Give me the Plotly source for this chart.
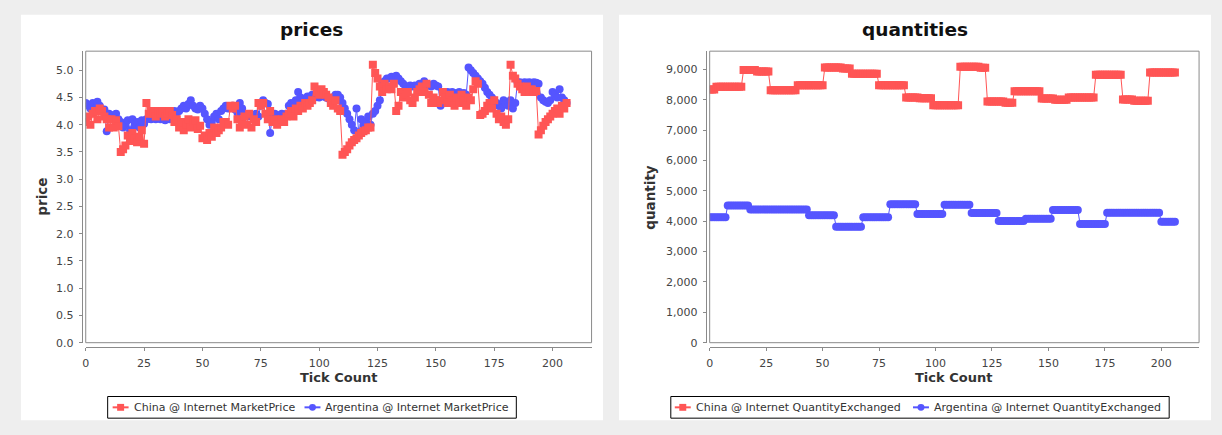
import plotly.graph_objects as go

# tick index shared by all four series
ticks = list(range(207))

china_price = [
    4.05, 4.15, 4.00, 4.20, 4.25, 4.10, 4.30, 4.25, 4.15, 4.10,
    3.95, 4.10, 3.95, 4.08, 3.97, 3.50, 3.55, 3.62, 3.80, 3.70,
    3.85, 3.75, 3.68, 3.78, 3.90, 3.65, 4.40, 4.20, 4.25, 4.20,
    4.15, 4.25, 4.20, 4.25, 4.15, 4.20, 4.25, 4.18, 4.05, 4.10,
    3.95, 4.05, 3.90, 4.00, 4.10, 3.95, 4.05, 4.08, 3.92, 3.98,
    3.75, 3.80, 3.72, 3.85, 3.78, 3.95, 3.85, 3.90, 3.95, 4.05,
    4.05, 4.00, 4.35, 4.30, 4.35, 4.10, 3.95, 4.05, 4.15, 4.00,
    4.20, 3.95, 4.10, 4.05, 4.40, 4.35, 4.40, 4.20, 4.10, 4.25,
    4.05, 4.10, 4.00, 4.05, 4.10, 4.05, 4.15, 4.20, 4.25, 4.15,
    4.30, 4.25, 4.35, 4.30, 4.40, 4.35, 4.40, 4.45, 4.70, 4.60,
    4.55, 4.65, 4.60, 4.55, 4.50, 4.40, 4.35, 4.45, 4.30, 4.25,
    3.45, 3.50, 3.55, 3.62, 3.68, 3.72, 3.75, 3.80, 3.85, 3.88,
    3.90, 3.95, 3.95, 5.10, 4.95, 4.85, 4.70, 4.60, 4.75, 4.65,
    4.70, 4.65, 4.75, 4.25, 4.35, 4.60, 4.50, 4.55, 4.60, 4.45,
    4.40, 4.50, 4.60, 4.65, 4.70, 4.60, 4.75, 4.55, 4.40, 4.50,
    4.45, 4.40, 4.45, 4.60, 4.50, 4.40, 4.55, 4.45, 4.35, 4.50,
    4.40, 4.55, 4.45, 4.35, 4.50, 4.45, 4.65, 4.80, 4.75, 4.18,
    4.20, 4.25, 4.35, 4.40, 4.30, 4.45, 4.20, 4.10, 4.15, 4.05,
    4.00, 4.10, 5.10, 4.90, 4.85, 4.75, 4.70, 4.65, 4.60, 4.70,
    4.60, 4.65, 4.60, 4.62, 3.82, 3.90, 3.98, 4.05, 4.10, 4.15,
    4.20, 4.25, 4.30, 4.20, 4.35, 4.30, 4.40,
]

argentina_price = [
    4.40, 4.35, 4.30, 4.40, 4.30, 4.42, 4.35, 4.25, 4.28, 3.88,
    4.20, 4.15, 4.18, 4.20, 4.10, 4.05, 3.95, 4.00, 4.08, 3.90,
    4.10, 3.98, 4.05, 3.95, 4.08, 4.02, 4.10, 4.12, 4.10, 4.15,
    4.10, 4.15, 4.10, 4.12, 4.08, 4.15, 4.10, 4.20, 4.25, 4.22,
    4.25, 4.30, 4.35, 4.30, 4.38, 4.45, 4.35, 4.30, 4.28, 4.35,
    4.30, 4.20, 4.10, 4.00, 4.05, 4.15, 4.20, 4.10, 4.25, 4.30,
    4.35, 4.30, 4.32, 4.35, 4.28, 4.22, 4.40, 4.30, 4.20, 4.15,
    4.18, 4.15, 4.12, 4.20, 4.15, 4.35, 4.45, 4.40, 4.38, 3.85,
    4.15, 4.20, 4.18, 4.15, 4.20, 4.18, 4.20, 4.35, 4.40, 4.38,
    4.45, 4.60, 4.50, 4.45, 4.48, 4.52, 4.50, 4.55, 4.50, 4.55,
    4.50, 4.55, 4.52, 4.50, 4.48, 4.45, 4.50, 4.55, 4.55, 4.50,
    4.40, 4.30, 4.20, 4.10, 4.00, 3.90, 4.30, 3.85, 4.10, 4.00,
    4.05, 4.15, 4.00, 4.20, 4.25, 4.35, 4.45, 4.75, 4.80, 4.85,
    4.85, 4.88, 4.85, 4.90, 4.85, 4.80, 4.75, 4.70, 4.70, 4.72,
    4.70, 4.72, 4.70, 4.75, 4.72, 4.80, 4.75, 4.72, 4.70, 4.75,
    4.72, 4.70, 4.35, 4.60, 4.58, 4.60, 4.55, 4.60, 4.58, 4.55,
    4.60, 4.55, 4.58, 4.55, 5.05, 5.00, 4.95, 4.90, 4.85, 4.80,
    4.75, 4.68, 4.60, 4.55, 4.50, 4.45, 4.40, 4.35, 4.30, 4.45,
    4.40, 4.35, 4.45, 4.30, 4.40, 4.78, 4.78, 4.76, 4.78, 4.77,
    4.78, 4.76, 4.78, 4.77, 4.75, 4.50, 4.45, 4.42, 4.40, 4.45,
    4.60, 4.55, 4.50, 4.65, 4.50, 4.45, 4.40,
]

# quantities hold a level for a run of ticks: (level, number of ticks)
china_qty_levels = [8340, 8425, 8980, 8930, 8310, 8480, 9065, 9030, 8860, 8480,
                    8075, 8050, 7820, 9085, 9050, 7940, 7900, 8280, 8040, 8000,
                    8075, 8820, 8010, 7970, 8900]
china_qty_runs = [3, 12, 6, 6, 12, 12, 8, 4, 12, 12,
                  6, 6, 12, 9, 3, 8, 4, 12, 6, 6,
                  12, 12, 5, 7, 12]

argentina_qty_levels = [4130, 4520, 4390, 4200, 3820, 4130, 4560, 4240,
                        4540, 4270, 4010, 4080, 4370, 3910, 4280, 3980]
argentina_qty_runs = [8, 10, 26, 12, 12, 12, 12, 12,
                      12, 12, 12, 12, 12, 12, 24, 7]

china_qty = [v for v, n in zip(china_qty_levels, china_qty_runs) for _ in range(n)]
argentina_qty = [v for v, n in zip(argentina_qty_levels, argentina_qty_runs) for _ in range(n)]

x_ticks = [0, 25, 50, 75, 100, 125, 150, 175, 200]
price_ticks = [0.0, 0.5, 1.0, 1.5, 2.0, 2.5, 3.0, 3.5, 4.0, 4.5, 5.0]
qty_ticks = [0, 1000, 2000, 3000, 4000, 5000, 6000, 7000, 8000, 9000]

price_legend = ['China @ Internet MarketPrice', 'Argentina @ Internet MarketPrice']
qty_legend = ['China @ Internet QuantityExchanged', 'Argentina @ Internet QuantityExchanged']

RED = '#ff5555'
BLUE = '#5555ff'
FONT = 'DejaVu Sans'
W, H = 1222, 435


def fx(px):
    return px / W


def fy(py):
    return 1 - py / H


plot_top, plot_bottom = 52, 348.3
left_plot = (82, 589.5)
right_plot = (708, 1199)

fig = go.Figure()

# Argentina first so that China is drawn on top (like the original)
fig.add_trace(go.Scatter(
    x=ticks, y=argentina_price, mode='lines+markers', name=price_legend[1],
    line=dict(color=BLUE, width=1), marker=dict(symbol='circle', size=8, color=BLUE),
    xaxis='x', yaxis='y'))
fig.add_trace(go.Scatter(
    x=ticks, y=china_price, mode='lines+markers', name=price_legend[0],
    line=dict(color=RED, width=1), marker=dict(symbol='square', size=8, color=RED),
    xaxis='x', yaxis='y'))
fig.add_trace(go.Scatter(
    x=ticks, y=argentina_qty, mode='lines+markers', name=qty_legend[1],
    line=dict(color=BLUE, width=1), marker=dict(symbol='circle', size=8, color=BLUE),
    xaxis='x2', yaxis='y2'))
fig.add_trace(go.Scatter(
    x=ticks, y=china_qty, mode='lines+markers', name=qty_legend[0],
    line=dict(color=RED, width=1), marker=dict(symbol='square', size=8, color=RED),
    xaxis='x2', yaxis='y2'))

axis_common = dict(
    showline=True, linecolor='#8a8a8a', linewidth=1,
    ticks='outside', ticklen=3, tickcolor='#8a8a8a',
    tickfont=dict(family=FONT, size=11, color='#444444'),
    showgrid=True, gridcolor='rgba(255,255,255,0.85)', gridwidth=1, griddash='2px,2px',
    zeroline=False, fixedrange=True,
)
x_axis_pos = fy(plot_bottom + 4.5)

fig.update_layout(
    width=W, height=H,
    margin=dict(l=0, r=0, t=0, b=0),
    paper_bgcolor='#eeeeee',
    plot_bgcolor='#c0c0c0',
    font=dict(family=FONT, color='#333333'),
    showlegend=False,
    xaxis=dict(axis_common, domain=[fx(left_plot[0]), fx(left_plot[1])], range=[0, 216.7],
               tickvals=x_ticks, anchor='free', position=x_axis_pos, ticklabelstandoff=3),
    yaxis=dict(axis_common, domain=[fy(plot_bottom), fy(plot_top)], range=[0, 5.35],
               tickvals=price_ticks, tickformat='.1f', anchor='free',
               position=fx(left_plot[0] - 4), ticklabelstandoff=3),
    xaxis2=dict(axis_common, domain=[fx(right_plot[0]), fx(right_plot[1])], range=[0, 216.7],
                tickvals=x_ticks, anchor='free', position=x_axis_pos, ticklabelstandoff=3),
    yaxis2=dict(axis_common, domain=[fy(plot_bottom), fy(plot_top)], range=[0, 9600],
                tickvals=qty_ticks, tickformat=',d', anchor='free',
                position=fx(right_plot[0] - 4), ticklabelstandoff=3),
)

# white chart panels behind each plot, plus the plot outlines
shapes = [
    dict(type='rect', xref='paper', yref='paper', x0=fx(17), x1=fx(601), y0=fy(427), y1=fy(15),
         fillcolor='white', line=dict(width=0), layer='below'),
    dict(type='rect', xref='paper', yref='paper', x0=fx(617), x1=fx(1211), y0=fy(427), y1=fy(15),
         fillcolor='white', line=dict(width=0), layer='below'),
]
for x0, x1 in (left_plot, right_plot):
    shapes.append(dict(type='rect', xref='paper', yref='paper', x0=fx(x0), x1=fx(x1),
                       y0=fy(plot_bottom), y1=fy(plot_top),
                       line=dict(color='#8a8a8a', width=1), fillcolor='rgba(0,0,0,0)', layer='above'))

annotations = [
    dict(text='<b>prices</b>', x=fx(309), y=fy(30), font=dict(size=18.5, color='#111111')),
    dict(text='<b>quantities</b>', x=fx(914), y=fy(30), font=dict(size=18.5, color='#111111')),
    dict(text='<b>Tick Count</b>', x=fx(336), y=fy(384), font=dict(size=13, color='#333333')),
    dict(text='<b>Tick Count</b>', x=fx(953), y=fy(384), font=dict(size=13, color='#333333')),
    dict(text='<b>price</b>', x=fx(38), y=fy(200), textangle=-90, font=dict(size=13.5, color='#333333')),
    dict(text='<b>quantity</b>', x=fx(648), y=fy(200), textangle=-90, font=dict(size=13.5, color='#333333')),
]

# legends drawn as boxed rows below each chart: (box x0, box x1, [(icon x, text x), ...], names)
legend_y0, legend_y1 = 403, 425
legend_mid = (legend_y0 + legend_y1) / 2
legend_rows = [
    (104, 514, [(117, 128), (309.5, 320)], price_legend),
    (669, 1169, [(681, 692), (920, 931)], qty_legend),
]
for bx0, bx1, slots, names in legend_rows:
    shapes.append(dict(type='rect', xref='paper', yref='paper', x0=fx(bx0), x1=fx(bx1),
                       y0=fy(legend_y1), y1=fy(legend_y0), fillcolor='white',
                       line=dict(color='black', width=1), layer='above'))
    for (icon_x, text_x), name, color, kind in zip(slots, names, (RED, BLUE), ('rect', 'circle')):
        shapes.append(dict(type='line', xref='paper', yref='paper', x0=fx(icon_x - 8), x1=fx(icon_x + 8),
                           y0=fy(legend_mid), y1=fy(legend_mid), line=dict(color=color, width=2),
                           layer='above'))
        shapes.append(dict(type=kind, xref='paper', yref='paper', x0=fx(icon_x - 3.5), x1=fx(icon_x + 3.5),
                           y0=fy(legend_mid + 3.5), y1=fy(legend_mid - 3.5), fillcolor=color,
                           line=dict(width=0), layer='above'))
        annotations.append(dict(text=name, x=fx(text_x), y=fy(legend_mid), xanchor='left',
                                font=dict(size=11, color='#333333')))

for a in annotations:
    a.setdefault('xanchor', 'center')
    a.update(xref='paper', yref='paper', showarrow=False, yanchor='middle')
    a['font']['family'] = FONT

fig.update_layout(shapes=shapes, annotations=annotations)

# the page body keeps no margin so the figure fills the window exactly
fig.write_html('out.html', config={'displayModeBar': False},
               post_script="document.body.style.margin='0px';")
